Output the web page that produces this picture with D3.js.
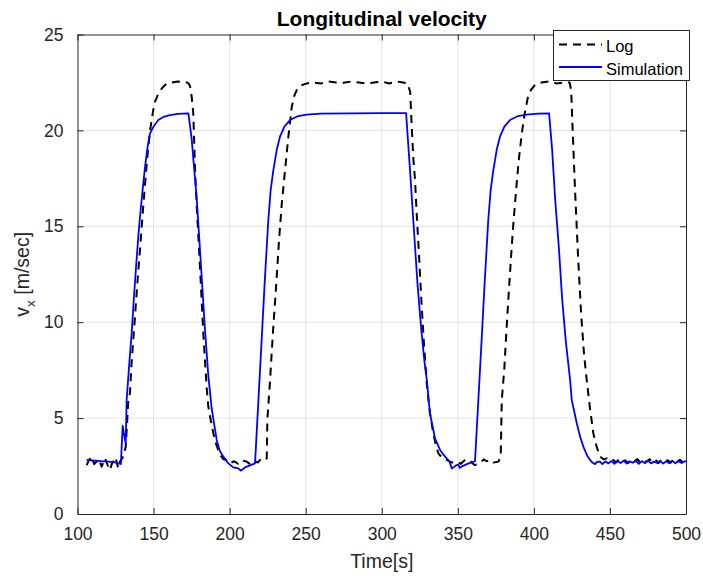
<!DOCTYPE html>
<html>
<head>
<meta charset="utf-8">
<script src="https://cdn.jsdelivr.net/npm/d3@7"></script>
<style>
  html, body { margin: 0; padding: 0; background: #fff; }
  svg { display: block; font-family: "Liberation Sans", Arial, Helvetica, sans-serif; }
</style>
</head>
<body>
<svg id="chart" width="703" height="578"></svg>
<script>
// Logged vehicle speed (time in s, speed in m/s)
const logTime = [106, 107.5, 109.3, 111, 112.6, 114, 115.9, 117, 118.1, 119.8, 121.4, 122.5, 123.5, 125, 126.8, 127.9, 129, 130.1,
  131.7, 132.5, 133.4, 134.5, 135.5, 137.8, 139.5, 141.1, 142.8, 144.4, 146, 147.7, 149.8, 151, 153.1, 155.5, 158.6, 162, 166, 170, 171.8, 173,
  174, 175, 176.1, 177.3, 178.4, 180.5, 182.7, 184.9, 186, 188, 190.4, 193.7, 196, 198.1, 200.5, 203, 205.5, 208, 211.2, 213.5, 216, 218.5, 220, 222.5, 224.4,
  224.8, 226.6, 228.5, 230.5, 232.5, 234.3, 236.4, 238.6, 240.8, 242.5, 244.1, 247, 250.7, 255, 260, 265, 270, 275, 280, 285, 290, 295, 300, 305, 310, 314, 317,
  318.7, 319.7, 320.8, 321.9, 323, 324.5, 326, 327.8, 329.8, 331.7, 333.9, 335.5, 337.2, 340, 342.7, 346, 349.3, 352, 354.5, 356.9, 359, 361, 364.6, 367, 369, 371.2, 373.5, 376.7, 378.2,
  378.9, 380.5, 382, 384, 386, 388, 390, 392, 394, 396, 398, 401, 405, 410, 415, 420, 423.5,
  424.5, 425.5, 427, 429, 431, 433, 435, 436.9, 439.1, 441.3, 443.5, 446, 448, 450, 452,
  454, 456, 458, 460, 462, 464, 466, 468, 470, 472, 474, 476, 478, 480, 482, 484, 486, 488, 490, 492, 494, 496, 498, 500];
const logSpeed = [2.55, 2.8, 2.99, 2.6, 2.73, 2.85, 2.47, 2.7, 2.9, 2.55, 2.29, 2.6, 2.73, 2.95, 2.38, 2.73, 2.85, 3.0,
  3.5, 4.6, 5.94, 6.3, 7.8, 10.3, 12.2, 13.8, 15.6, 17.2, 18.7, 20.0, 21.06, 21.5, 21.9, 22.2, 22.45, 22.5, 22.55, 22.5, 22.5, 22.45,
  22.3, 21.8, 20.9, 17.9, 16.0, 12.9, 9.4, 6.6, 5.6, 4.7, 3.8, 3.08, 2.85, 2.82, 2.65, 2.75, 2.62, 2.8, 2.73, 2.6, 2.78, 2.68, 2.82, 2.75, 2.9,
  4.9, 7.0, 9.5, 11.8, 14.3, 16.2, 17.9, 19.67, 21.2, 21.8, 22.1, 22.35, 22.45, 22.5, 22.45, 22.55, 22.5, 22.48, 22.55, 22.5, 22.45, 22.5, 22.55, 22.45, 22.55, 22.5, 22.45,
  22.0, 20.2, 18.5, 17.4, 15.6, 13.5, 11.2, 8.8, 6.6, 5.25, 4.2, 3.6, 3.16, 2.9, 2.82, 2.68, 2.73, 2.62, 2.8, 2.85, 2.7, 2.55, 2.64, 2.85, 2.75, 2.82, 2.68, 2.73, 2.99,
  5.94, 7.5, 9.6, 12.2, 14.6, 16.6, 18.4, 19.8, 20.9, 21.7, 22.1, 22.4, 22.5, 22.55, 22.45, 22.5, 22.5,
  22.1, 20.0, 17.0, 13.5, 10.5, 8.3, 6.8, 5.5, 4.2, 3.5, 2.99, 2.85, 2.9, 2.78, 2.82,
  2.7, 2.85, 2.72, 2.8, 2.66, 2.84, 2.74, 2.86, 2.68, 2.8, 2.72, 2.86, 2.7, 2.82, 2.66, 2.84, 2.74, 2.8, 2.68, 2.86, 2.72, 2.82, 2.7, 2.8];

// Simulated vehicle speed
const simTime = [106, 110, 115, 120, 124, 127.5, 128.5, 129.7, 130.5, 131.7, 132.3, 134, 135.6, 137, 138.5, 140, 141.1, 142.8, 144.4, 146, 147.7, 150, 153.1, 156.5, 160.8, 166, 172.9,
  175, 178.4, 180.5, 183.8, 186, 188.2, 191.5, 193.5, 195.9, 199, 202.4, 205.7, 207.3, 208.5, 210.1, 213, 216.7,
  218.9, 221, 223, 225.4, 227, 228.7, 231, 233.1, 236, 239.7, 245, 250.7, 260, 280, 300, 316,
  318.6, 321, 323.5, 326, 328, 329.6, 331.7, 335, 338.3, 340.5, 342.7, 344.5, 346, 347.5, 349.3, 350.4, 351.2, 353, 356, 358.5, 361.3,
  363.5, 365.6, 367.6, 370, 371.6, 373.3, 375.6, 377.7, 380.6, 384.3, 389.6, 395, 403, 410,
  412, 414, 416.5, 418.6, 421, 423.8, 424.9, 428.2, 430.5, 432.6, 435, 436.9, 438.5, 440.2, 441.5, 443.5, 445,
  447, 449, 451, 453, 455, 457, 459, 461, 463, 465, 467, 469, 471, 473, 475, 477, 479, 481, 483, 485, 487, 489, 491, 493, 495, 497, 499, 500];
const simSpeed = [2.82, 2.79, 2.76, 2.73, 2.7, 2.62, 2.6, 4.59, 4.2, 3.69, 5.94, 7.8, 9.42, 11.2, 12.9, 14.5, 15.5, 16.9, 18.1, 19.1, 19.85, 20.2, 20.54, 20.7, 20.8, 20.86, 20.89,
  19.6, 16.4, 13.8, 9.6, 7.2, 5.5, 3.86, 3.3, 2.99, 2.65, 2.43, 2.38, 2.26, 2.32, 2.43, 2.52, 2.64,
  5.9, 9.0, 12.0, 15.3, 16.9, 17.9, 19.0, 19.67, 20.2, 20.54, 20.75, 20.82, 20.87, 20.89, 20.9, 20.9,
  17.9, 15.0, 12.0, 9.6, 8.0, 7.0, 5.25, 3.95, 3.34, 3.1, 2.9, 2.75, 2.38, 2.45, 2.55, 2.58, 2.4, 2.5, 2.6, 2.68, 2.75,
  5.94, 9.0, 12.0, 15.3, 16.9, 17.9, 19.0, 19.67, 20.2, 20.54, 20.75, 20.82, 20.87, 20.89,
  19.0, 16.4, 13.8, 11.2, 9.0, 7.0, 5.94, 4.73, 4.0, 3.5, 3.05, 2.82, 2.68, 2.6, 2.72, 2.73, 2.6,
  2.74, 2.64, 2.76, 2.62, 2.75, 2.66, 2.78, 2.63, 2.74, 2.67, 2.77, 2.62, 2.76, 2.65, 2.78, 2.64, 2.73, 2.66, 2.77, 2.63, 2.75, 2.65, 2.78, 2.64, 2.76, 2.66, 2.74, 2.75];

const xTicks = [100, 150, 200, 250, 300, 350, 400, 450, 500];
const yTicks = [0, 5, 10, 15, 20, 25];
const seriesNames = ["Log", "Simulation"];

const ink = "#262626";
const plot = { left: 77.5, right: 686, top: 34.5, bottom: 514 };

const svg = d3.select("#chart");
const x = d3.scaleLinear().domain([100, 500]).range([plot.left, plot.right]);
const y = d3.scaleLinear().domain([0, 25]).range([plot.bottom, plot.top]);

// Grid
const grid = svg.append("g").attr("stroke", "#e3e3e3").attr("stroke-width", 1);
grid.selectAll("line.gx").data(xTicks.slice(1, -1)).join("line")
  .attr("x1", d => x(d)).attr("x2", d => x(d)).attr("y1", plot.top).attr("y2", plot.bottom);
grid.selectAll("line.gy").data(yTicks.slice(1, -1)).join("line")
  .attr("x1", plot.left).attr("x2", plot.right).attr("y1", d => y(d)).attr("y2", d => y(d));

// Axes with inward ticks (box style)
const fontSize = 17.5;
const styleAxis = g => {
  g.select(".domain").attr("stroke", ink).attr("stroke-width", 1);
  g.selectAll(".tick line").attr("stroke", ink);
  g.selectAll(".tick text").attr("fill", ink).attr("font-size", fontSize).attr("font-family", null);
};
svg.append("g").attr("transform", `translate(0,${plot.bottom})`)
  .call(d3.axisBottom(x).tickValues(xTicks).tickSizeInner(-6).tickSizeOuter(0).tickPadding(14))
  .call(styleAxis);
svg.append("g").attr("transform", `translate(0,${plot.top})`)
  .call(d3.axisTop(x).tickValues(xTicks).tickSizeInner(-6).tickSizeOuter(0).tickFormat(""))
  .call(styleAxis);
svg.append("g").attr("transform", `translate(${plot.left},0)`)
  .call(d3.axisLeft(y).tickValues(yTicks).tickSizeInner(-6).tickSizeOuter(0).tickPadding(14))
  .call(styleAxis);
svg.append("g").attr("transform", `translate(${plot.right},0)`)
  .call(d3.axisRight(y).tickValues(yTicks).tickSizeInner(-6).tickSizeOuter(0).tickFormat(""))
  .call(styleAxis);

// Lines
svg.append("defs").append("clipPath").attr("id", "plotClip")
  .append("rect").attr("x", plot.left).attr("y", plot.top)
  .attr("width", plot.right - plot.left).attr("height", plot.bottom - plot.top);

const line = d3.line().x(d => x(d[0])).y(d => y(d[1]));
const logData = logTime.map((t, i) => [t, logSpeed[i]]);
const simData = simTime.map((t, i) => [t, simSpeed[i]]);

const lines = svg.append("g").attr("clip-path", "url(#plotClip)");
lines.append("path").datum(logData).attr("d", line)
  .attr("fill", "none").attr("stroke", "#000").attr("stroke-width", 2)
  .attr("stroke-dasharray", "8,6").attr("stroke-linejoin", "round");
lines.append("path").datum(simData).attr("d", line)
  .attr("fill", "none").attr("stroke", "#0000ff").attr("stroke-width", 1.8)
  .attr("stroke-linejoin", "round");

// Title and labels
svg.append("text").attr("x", (plot.left + plot.right) / 2).attr("y", 26)
  .attr("text-anchor", "middle").attr("font-size", 21).attr("font-weight", "bold")
  .attr("fill", "#000").text("Longitudinal velocity");

svg.append("text").attr("x", (plot.left + plot.right) / 2).attr("y", 568)
  .attr("text-anchor", "middle").attr("font-size", 19.5).attr("fill", ink).text("Time[s]");

const yl = svg.append("text")
  .attr("transform", `translate(29,${(plot.top + plot.bottom) / 2}) rotate(-90)`)
  .attr("text-anchor", "middle").attr("font-size", 19.5).attr("fill", ink);
yl.append("tspan").text("v");
yl.append("tspan").attr("dy", 6).attr("font-size", 13.5).text("x");
yl.append("tspan").attr("dy", -6).text(" [m/sec]");

// Legend
const legend = svg.append("g");
legend.append("rect").attr("x", 553.5).attr("y", 30.5).attr("width", 136).attr("height", 50)
  .attr("fill", "#fff").attr("stroke", ink).attr("stroke-width", 1);
const legendStyles = [
  { stroke: "#000", dash: "8,6", width: 2 },
  { stroke: "#0000ff", dash: null, width: 1.8 }
];
seriesNames.forEach((name, i) => {
  const cy = 44.5 + i * 22.5;
  legend.append("line").attr("x1", 559).attr("x2", 602).attr("y1", cy).attr("y2", cy)
    .attr("stroke", legendStyles[i].stroke).attr("stroke-width", legendStyles[i].width)
    .attr("stroke-dasharray", legendStyles[i].dash);
  legend.append("text").attr("x", 606).attr("y", cy + 7.5)
    .attr("font-size", 16.5).attr("fill", "#000").text(name);
});
</script>
</body>
</html>
